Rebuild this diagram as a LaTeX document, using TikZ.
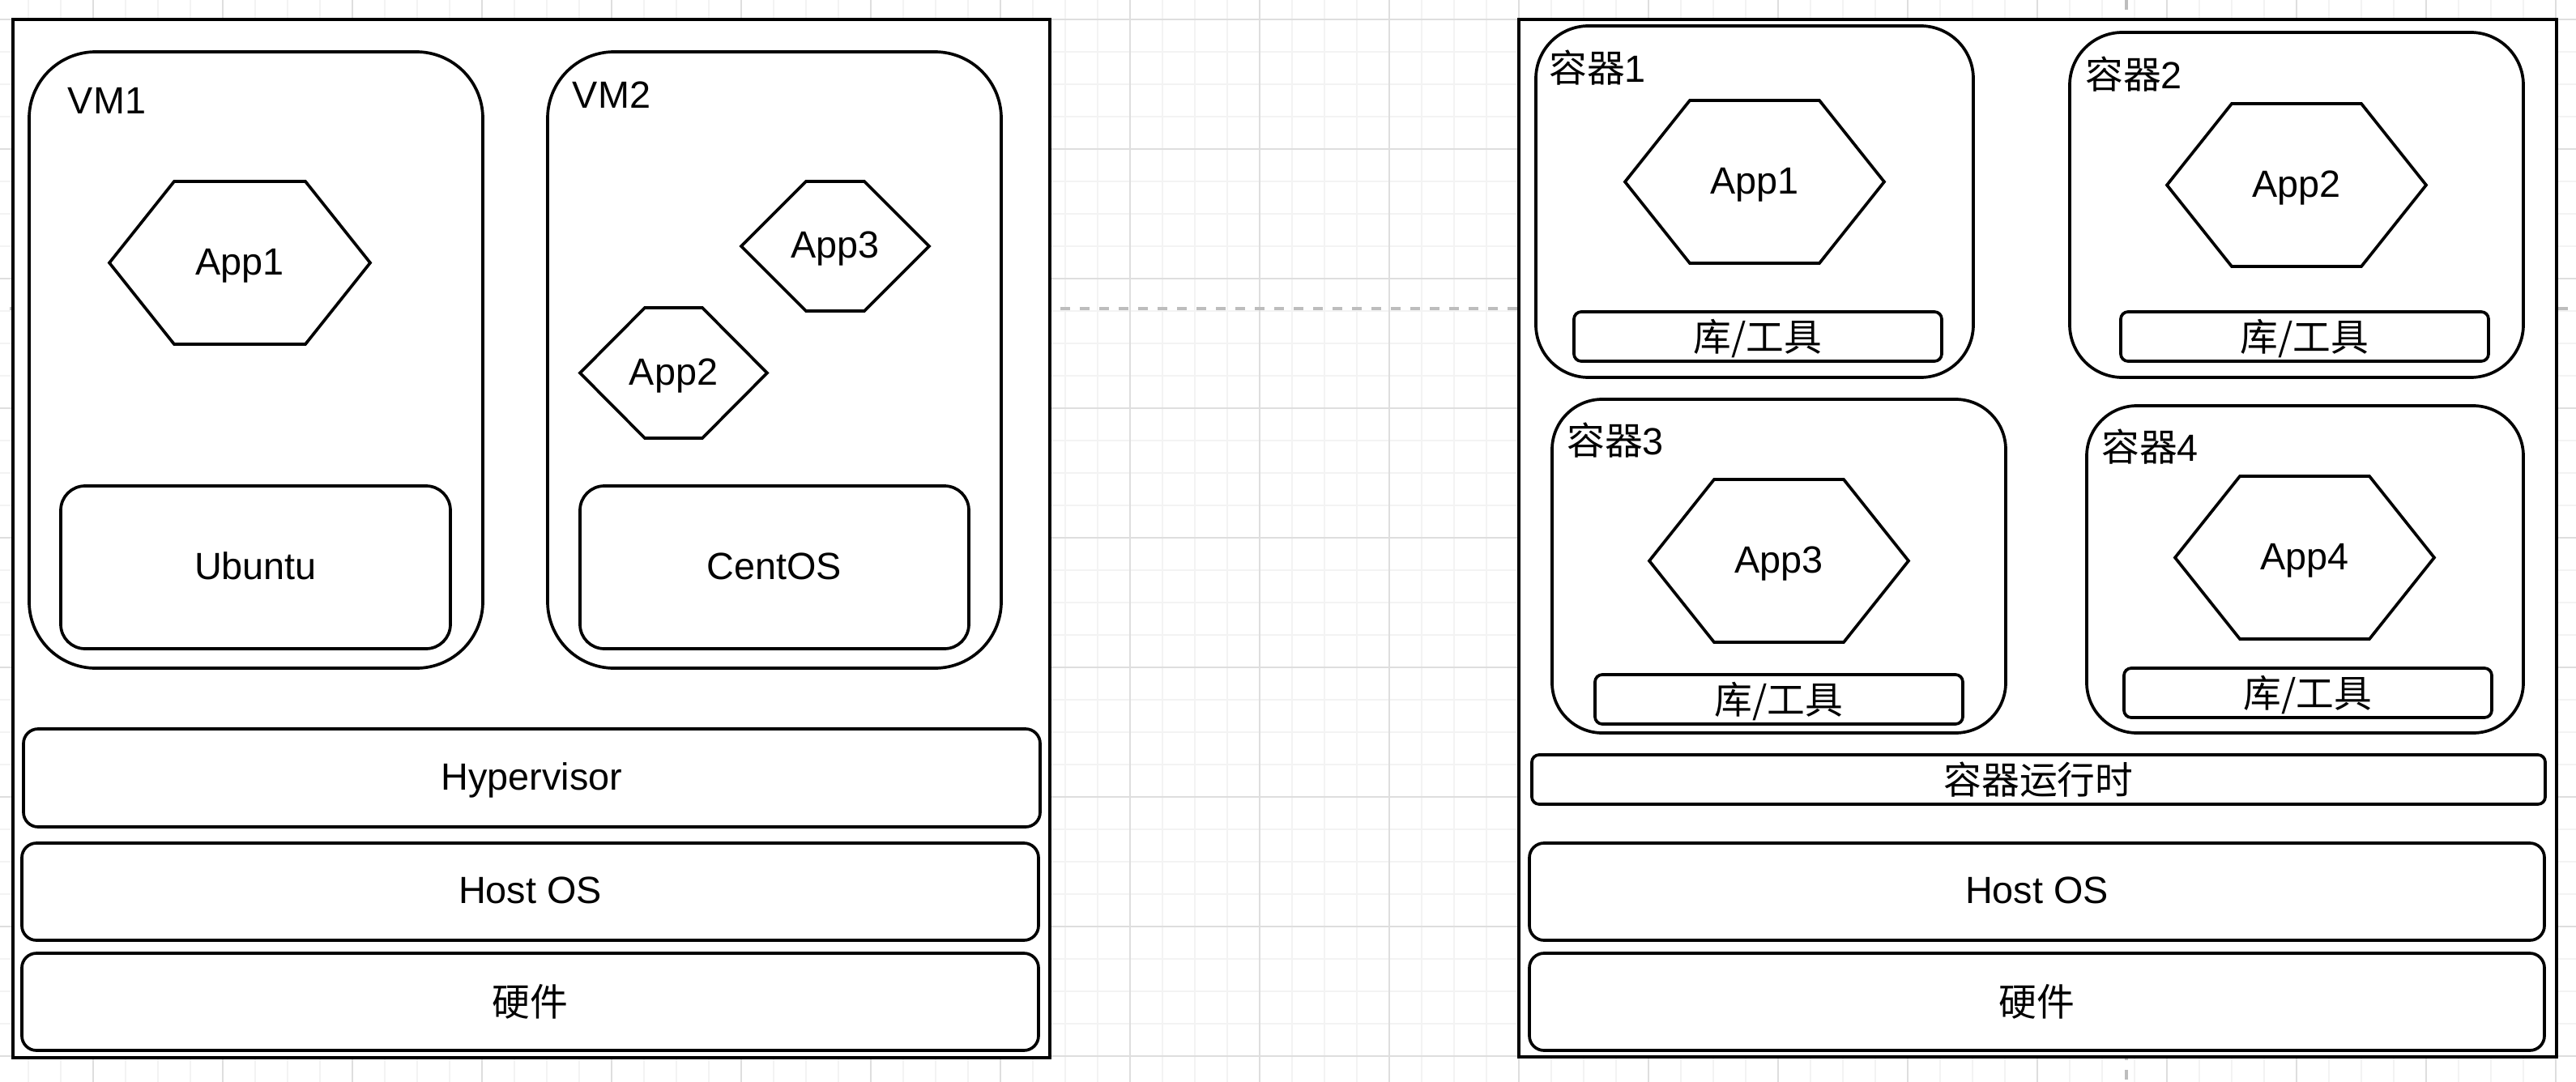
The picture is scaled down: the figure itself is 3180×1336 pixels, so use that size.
\documentclass[tikz,border=0pt]{standalone}
\usepackage{fontspec}
\setmainfont{Liberation Sans}
\newfontfamily\cjk{Noto Sans CJK SC}
\newcommand\zh[1]{\raisebox{-0.8pt}{\cjk #1}}
\usetikzlibrary{calc}
\tikzset{
  x=0.01cm,y=-0.01cm,
  shape line/.style={draw=black,line width=1.05pt,fill=white},
  outer frame/.style={shape line,line width=1.15pt,rectangle,inner sep=0pt,outer sep=0pt},
  label text/.style={font=\fontsize{13.3}{15}\selectfont,inner sep=0pt,outer sep=0pt,text=black,text height=9.5pt,text depth=1pt},
  grid minor/.style={draw=gridminor,line width=0.6pt},
  grid major/.style={draw=gridmajor,line width=0.5pt},
  page break/.style={draw=gridbreak,line width=1pt,dash pattern=on 3.4pt off 3.43pt}
}
\definecolor{gridminor}{HTML}{F3F3F3}
\definecolor{gridmajor}{HTML}{DEDEDE}
\definecolor{gridbreak}{HTML}{BDBDBD}
\newcommand\pbox[7]{% name,x1,y1,x2,y2,radius,text
  \pgfmathsetmacro\pw{#4-#2}\pgfmathsetmacro\ph{#5-#3}
  \pgfmathsetmacro\pcx{(#2+#4)/2}\pgfmathsetmacro\pcy{(#3+#5)/2}
  \node[shape line,label text,rectangle,rounded corners=#6*0.01cm,minimum width=\pw*0.01cm,minimum height=\ph*0.01cm] (#1) at (\pcx,\pcy) {#7};}
\newcommand\pframe[5]{% name,x1,y1,x2,y2
  \pgfmathsetmacro\pw{#4-#2}\pgfmathsetmacro\ph{#5-#3}
  \pgfmathsetmacro\pcx{(#2+#4)/2}\pgfmathsetmacro\pcy{(#3+#5)/2}
  \node[outer frame,minimum width=\pw*0.01cm,minimum height=\ph*0.01cm] (#1) at (\pcx,\pcy) {};}
\newcommand\phex[6]{% name,x1,y1,x2,y2,text
  \pgfmathsetmacro\pcx{(#2+#4)/2}\pgfmathsetmacro\pcy{(#3+#5)/2}
  \pgfmathsetmacro\pa{#2+80}\pgfmathsetmacro\pb{#4-80}
  \draw[shape line,line join=miter] (#2,\pcy) -- (\pa,#3) -- (\pb,#3) -- (#4,\pcy) -- (\pb,#5) -- (\pa,#5) -- cycle;
  \node[label text] (#1) at (\pcx,\pcy) {#6};}
\begin{document}
\begin{tikzpicture}
\useasboundingbox (0,0) rectangle (3180,1336);
\fill[white] (0,0) rectangle (3180,1336);
% background grid
\foreach \gx in {35,75,...,3180} {\draw[grid minor] (\gx,0) -- (\gx,1336);}
\foreach \gy in {24,64,...,1336} {\draw[grid minor] (0,\gy) -- (3180,\gy);}
\foreach \gx in {115,275,...,3180} {\draw[grid major] (\gx,0) -- (\gx,1336);}
\foreach \gy in {24,184,...,1336} {\draw[grid major] (0,\gy) -- (3180,\gy);}
\draw[page break] (12,381) -- (3180,381);
\draw[page break] (2625,0) -- (2625,1336);
% left: virtual machines
\pframe{leftframe}{16}{24}{1296}{1306}
\pbox{vmone}{36}{64}{596}{825}{82}{}
\pbox{vmtwo}{676}{64}{1236}{825}{82}{}
\node[label text] (vmonelabel) at (132,126) {VM1};
\node[label text] (vmtwolabel) at (755,119) {VM2};
\phex{appone}{135}{224}{457}{425}{App1}
\phex{appthree}{915}{224}{1147}{384}{App3}
\phex{apptwo}{716}{380}{947}{541}{App2}
\pbox{ubuntu}{75}{600}{556}{801}{30}{Ubuntu}
\pbox{centos}{716}{600}{1196}{801}{30}{CentOS}
\pbox{hyper}{29}{900}{1284}{1021}{18}{Hypervisor}
\pbox{hostl}{27}{1041}{1282}{1161}{18}{Host OS}
\pbox{hwl}{27}{1177}{1282}{1297}{18}{\zh{硬件}}
% right: containers
\pframe{rightframe}{1875}{24}{3156}{1305}
\pbox{cone}{1896}{32}{2436}{466}{65}{}
\pbox{ctwo}{2555}{40}{3115}{466}{65}{}
\pbox{cthree}{1916}{493}{2476}{905}{62}{}
\pbox{cfour}{2576}{501}{3115}{905}{62}{}
\node[label text] (conelabel) at (1972,87) {{\cjk 容器}1};
\node[label text] (ctwolabel) at (2634,95) {{\cjk 容器}2};
\node[label text] (cthreelabel) at (1994,547) {{\cjk 容器}3};
\node[label text] (cfourlabel) at (2654,555) {{\cjk 容器}4};
\phex{hone}{2006}{124}{2326}{325}{App1}
\phex{htwo}{2675}{128}{2995}{329}{App2}
\phex{hthree}{2036}{592}{2356}{793}{App3}
\phex{hfour}{2685}{588}{3005}{789}{App4}
\pbox{libone}{1943}{385}{2397}{446}{9}{\zh{库/工具}}
\pbox{libtwo}{2618}{385}{3072}{446}{9}{\zh{库/工具}}
\pbox{libthree}{1969}{833}{2423}{894}{9}{\zh{库/工具}}
\pbox{libfour}{2622}{825}{3076}{886}{9}{\zh{库/工具}}
\pbox{runtime}{1891}{932}{3142}{993}{9}{\zh{容器运行时}}
\pbox{hostr}{1888}{1041}{3141}{1161}{18}{Host OS}
\pbox{hwr}{1888}{1177}{3141}{1297}{18}{\zh{硬件}}
\end{tikzpicture}
\end{document}
